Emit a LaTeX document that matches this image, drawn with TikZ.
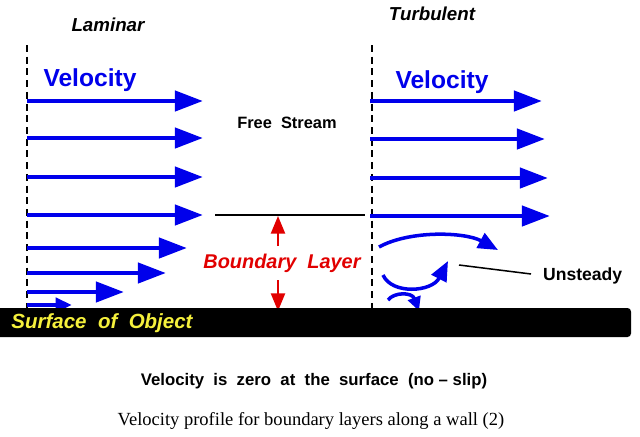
\documentclass[tikz,border=0pt]{standalone}
\usepackage{fontspec}
\setmainfont{Liberation Sans}
\newfontfamily\captionfont{Liberation Serif}
\usetikzlibrary{arrows.meta}
\definecolor{velblue}{RGB}{0,0,235}
\definecolor{layerred}{RGB}{225,0,0}
\definecolor{surfyellow}{RGB}{245,240,60}
\tikzset{
  vel/.style={velblue, line width=4pt, -{Triangle[length=24pt,width=17pt]}},
  eddy/.style={velblue, line width=3pt, -{Triangle[length=17pt,width=14pt]}},
  wall/.style={black, line width=1.5pt, dash pattern=on 6pt off 4pt},
  layer/.style={layerred, line width=1.6pt, -{Triangle[length=15pt,width=12pt]}}
}
\begin{document}
\begin{tikzpicture}[x=0.03cm, y=-0.03cm]
    \useasboundingbox (0,0) rectangle (640,436);
    % headings
    \node[font=\bfseries\itshape\fontsize{16}{18}\selectfont] (lam) at (108,25) {Laminar};
    \node[font=\bfseries\itshape\fontsize{16}{18}\selectfont] (turb) at (432,14) {Turbulent};
    \node[velblue, font=\bfseries\fontsize{21}{24}\selectfont] (vl) at (90,80) {Velocity};
    \node[velblue, font=\bfseries\fontsize{21}{24}\selectfont] (vr) at (442,82) {Velocity};
    \node[font=\bfseries\fontsize{14}{16}\selectfont] (free) at (287,123) {Free\ \ Stream};
    % walls
    \coordinate (lwtop) at (27,45);
    \coordinate (lwbot) at (27,310);
    \coordinate (rwtop) at (372,45);
    \coordinate (rwbot) at (372,310);
    \draw[wall] (lwtop) -- (lwbot);
    \draw[wall] (rwtop) -- (rwbot);
    % laminar profile
    \coordinate (L1) at (27,101);  \coordinate (L1e) at (203,101);
    \coordinate (L2) at (27,138);  \coordinate (L2e) at (203,138);
    \coordinate (L3) at (27,177);  \coordinate (L3e) at (203,177);
    \coordinate (L4) at (27,215);  \coordinate (L4e) at (203,215);
    \coordinate (L5) at (27,248);  \coordinate (L5e) at (187,248);
    \coordinate (L6) at (27,273);  \coordinate (L6e) at (166,273);
    \coordinate (L7) at (27,292);  \coordinate (L7e) at (124,292);
    \coordinate (L8) at (27,305);  \coordinate (L8e) at (72,305);
    \draw[vel] (L1) -- (L1e);
    \draw[vel] (L2) -- (L2e);
    \draw[vel] (L3) -- (L3e);
    \draw[vel] (L4) -- (L4e);
    \draw[vel] (L5) -- (L5e);
    \draw[vel] (L6) -- (L6e);
    \draw[vel] (L7) -- (L7e);
    \draw[vel, -{Triangle[length=14pt,width=12pt]}] (L8) -- (L8e);
    % turbulent profile
    \coordinate (T1) at (370,101); \coordinate (T1e) at (542,101);
    \coordinate (T2) at (370,139); \coordinate (T2e) at (545,139);
    \coordinate (T3) at (370,178); \coordinate (T3e) at (548,178);
    \coordinate (T4) at (370,216); \coordinate (T4e) at (550,216);
    \draw[vel] (T1) -- (T1e);
    \draw[vel] (T2) -- (T2e);
    \draw[vel] (T3) -- (T3e);
    \draw[vel] (T4) -- (T4e);
    % eddies
    \coordinate (E1) at (379,247); \coordinate (E1e) at (498,250);
    \coordinate (E2) at (383,275); \coordinate (E2e) at (448,261);
    \coordinate (E3) at (388,300); \coordinate (E3e) at (419,311);
    \draw[eddy] (E1) .. controls (410,230) and (465,232) .. (E1e);
    \draw[eddy] (E2) .. controls (392,295) and (432,292) .. (E2e);
    \draw[eddy, -{Triangle[length=12pt,width=11pt]}] (E3) .. controls (394,292) and (412,292) .. (E3e);
    \node[font=\bfseries\fontsize{15}{17}\selectfont, anchor=west] (uns) at (539,276) {Unsteady};
    \coordinate (unsend) at (459,265);
    \draw[line width=1.3pt] (uns.west) ++(-8,-2) -- (unsend);
    % boundary layer edge
    \coordinate (edge1) at (215,215);
    \coordinate (edge2) at (365,215);
    \draw[line width=1pt] (edge1) -- (edge2);
    \node[layerred, font=\bfseries\itshape\fontsize{17}{19}\selectfont] (bl) at (282,263) {Boundary\ \ Layer};
    \coordinate (bltop) at (278,216);
    \coordinate (blbot) at (278,311);
    \draw[layer] (278,246) -- (bltop);
    \draw[layer] (278,280) -- (blbot);
    % surface
    \fill[black, rounded corners=3] (-5,308) rectangle (631,337);
    \node[surfyellow, font=\bfseries\itshape\fontsize{17.5}{19}\selectfont] (surf) at (102,323) {Surface\ \ of\ \ Object};
    % notes
    \node[font=\bfseries\fontsize{14.3}{16}\selectfont] (noslip) at (314,381) {Velocity\ \ is\ \ zero\ \ at\ \ the\ \ surface\ \ (no -- slip)};
    \node[font=\captionfont\fontsize{15.8}{18}\selectfont] (cap) at (311,421) {Velocity profile for boundary layers along a wall (2)};
\end{tikzpicture}
\end{document}
